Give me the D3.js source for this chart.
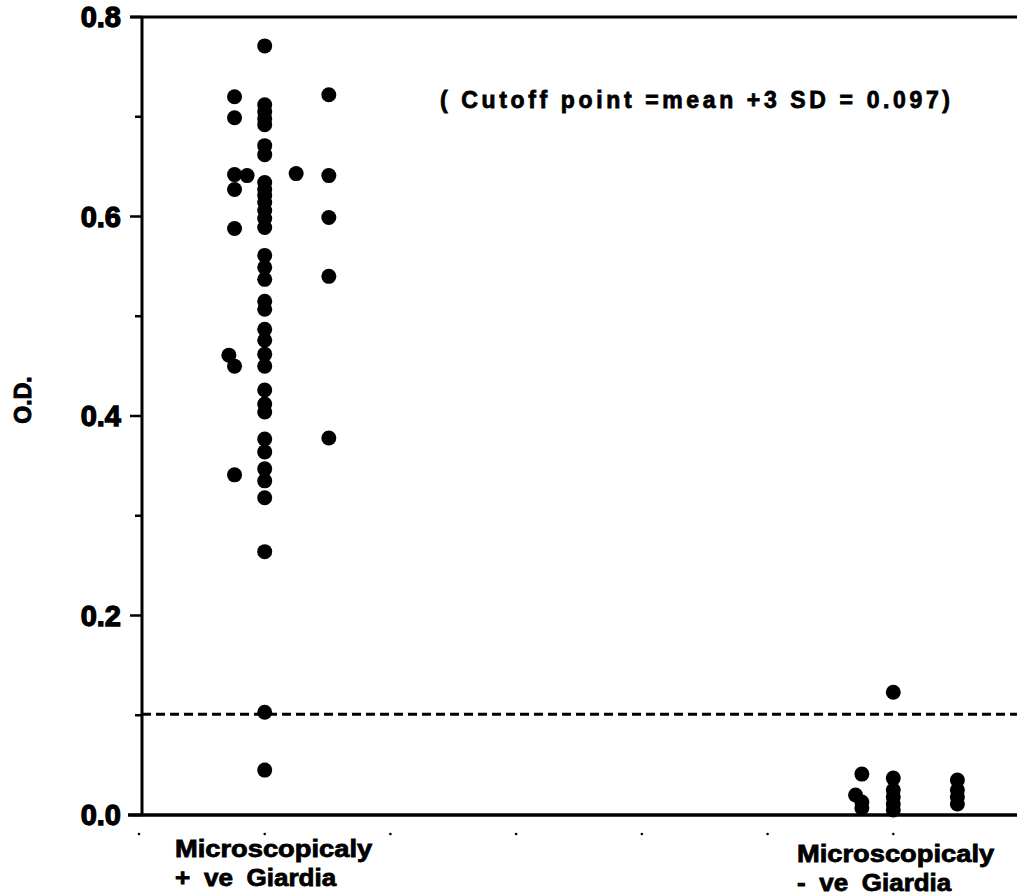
<!DOCTYPE html>
<html>
<head>
<meta charset="utf-8">
<script src="https://cdn.jsdelivr.net/npm/d3@7"></script>
<style>
  body { margin: 0; background: #fff; }
  text { font-family: "Liberation Sans", Arial, sans-serif; font-weight: bold; fill: #000; }
</style>
</head>
<body>
<div id="chart"></div>
<script>
// Dimensions of chart.
const WIDTH = 1017;
const HEIGHT = 896;
const M = { left: 142, top: 17, bottom: 815 };
const R = 7.5;

// Categories sit at x = 1 and x = 6 on a 0..7 axis.
const CATEGORIES = [
  { x: 1, lines: ["Microscopicaly", "+ ve Giardia"] },
  { x: 6, lines: ["Microscopicaly", "- ve Giardia"] },
];
const X_TICKS = [0, 1, 2, 3, 4, 5, 6, 7];
const Y_MAJOR = [0, 0.2, 0.4, 0.6, 0.8];
const Y_MINOR = [0.1, 0.3, 0.5, 0.7];
const CUTOFF_LINE = 0.1;
const NOTE = "( Cutoff point =mean +3 SD = 0.097)";

// Microscopically positive: horizontal offset from category, and O.D.
const posOffset = [
  -0.24, -0.24, -0.24, -0.24, -0.24, -0.24, -0.24, -0.285, -0.14,
  0, 0, 0, 0, 0, 0, 0, 0, 0, 0, 0, 0, 0, 0, 0, 0, 0,
  0, 0, 0, 0, 0, 0, 0, 0, 0, 0, 0, 0, 0, 0, 0, 0, 0,
  0.25, 0.51, 0.51, 0.51, 0.51, 0.51,
];
const posOD = [
  0.720, 0.699, 0.642, 0.627, 0.588, 0.450, 0.341, 0.461, 0.641,
  0.771, 0.712, 0.705, 0.698, 0.692, 0.671, 0.662, 0.634, 0.627, 0.621, 0.614, 0.606, 0.598, 0.589, 0.561, 0.549, 0.537,
  0.515, 0.507, 0.487, 0.476, 0.462, 0.450, 0.426, 0.412, 0.404, 0.377, 0.364, 0.347, 0.335, 0.318, 0.264, 0.103, 0.045,
  0.643, 0.722, 0.641, 0.599, 0.540, 0.378,
];

// Microscopically negative.
const negOffset = [-0.30, -0.25, -0.25, -0.25, 0, 0, 0, 0, 0, 0, 0.51, 0.51, 0.51, 0.51];
const negOD = [0.020, 0.041, 0.013, 0.007, 0.123, 0.037, 0.025, 0.018, 0.011, 0.005, 0.035, 0.025, 0.018, 0.011];

let svg = d3
  .select("#chart")
  .append("svg")
  .attr("width", WIDTH)
  .attr("height", HEIGHT);

let x = d3.scaleLinear().domain([0, 7]).range([139, 1019]);
let y = d3.scaleLinear().domain([0, 0.8]).range([M.bottom, M.top]);

// Frame: left axis, top line and baseline.
svg.append("line")
  .attr("x1", M.left).attr("x2", M.left)
  .attr("y1", M.top - 1).attr("y2", M.bottom + 1)
  .attr("stroke", "#000").attr("stroke-width", 3);
svg.append("line")
  .attr("x1", M.left - 12).attr("x2", WIDTH)
  .attr("y1", M.top).attr("y2", M.top)
  .attr("stroke", "#000").attr("stroke-width", 3);
svg.append("line")
  .attr("x1", M.left - 14).attr("x2", WIDTH)
  .attr("y1", M.bottom).attr("y2", M.bottom)
  .attr("stroke", "#000").attr("stroke-width", 3.5);

// Y ticks and labels.
svg.selectAll(".major")
  .data(Y_MAJOR)
  .enter()
  .append("line")
  .attr("x1", M.left - 12).attr("x2", M.left)
  .attr("y1", (d) => y(d)).attr("y2", (d) => y(d))
  .attr("stroke", "#000").attr("stroke-width", 2.5);
svg.selectAll(".minor")
  .data(Y_MINOR)
  .enter()
  .append("line")
  .attr("x1", M.left - 7).attr("x2", M.left)
  .attr("y1", (d) => y(d)).attr("y2", (d) => y(d))
  .attr("stroke", "#000").attr("stroke-width", 2.5);
svg.selectAll(".ylab")
  .data(Y_MAJOR)
  .enter()
  .append("text")
  .attr("x", 121)
  .attr("y", (d) => y(d))
  .attr("dy", "0.36em")
  .attr("text-anchor", "end")
  .style("font-size", "29px")
  .style("stroke", "#000").style("stroke-width", 1.3)
  .text((d) => d.toFixed(1));

svg.append("text")
  .attr("transform", "translate(31,400) rotate(-90)")
  .attr("text-anchor", "middle")
  .style("font-size", "23px")
  .style("stroke", "#000").style("stroke-width", 1)
  .text("O.D.");

// Small dots under the baseline, one per x unit.
svg.selectAll(".xdot")
  .data(X_TICKS)
  .enter()
  .append("circle")
  .attr("cx", (d) => x(d))
  .attr("cy", 834)
  .attr("r", 1.3)
  .attr("fill", "#000");

// Cutoff line.
svg.append("line")
  .attr("x1", M.left).attr("x2", WIDTH)
  .attr("y1", y(CUTOFF_LINE) - 1).attr("y2", y(CUTOFF_LINE) - 1)
  .attr("stroke", "#000").attr("stroke-width", 3)
  .attr("stroke-dasharray", "9,5");

svg.append("text")
  .attr("x", 440)
  .attr("y", 108)
  .attr("textLength", 510)
  .attr("lengthAdjust", "spacing")
  .style("font-size", "23px")
  .style("stroke", "#000").style("stroke-width", 0.8)
  .text(NOTE);

// Points.
const points = posOD.map((v, i) => ({ x: CATEGORIES[0].x + posOffset[i], v: v }))
  .concat(negOD.map((v, i) => ({ x: CATEGORIES[1].x + negOffset[i], v: v })));

svg.selectAll(".pt")
  .data(points)
  .enter()
  .append("circle")
  .attr("cx", (d) => x(d.x))
  .attr("cy", (d) => y(d.v))
  .attr("r", R)
  .attr("fill", "#000");

// Category labels under the axis; stretched horizontally to the printed widths.
const LABEL = [
  { x0: 175, y0: 857, w: [198, 162] },
  { x0: 797, y0: 862, w: [198, 155] },
];
CATEGORIES.forEach((c, i) => {
  c.lines.forEach((line, j) => {
    let t = svg.append("text")
      .attr("x", 0)
      .attr("y", 0)
      .style("font-size", "24px")
      .style("word-spacing", "6px")
      .style("stroke", "#000").style("stroke-width", 0.8)
      .text(line);
    let natural = t.node().getBBox().width;
    let k = LABEL[i].w[j] / natural;
    t.attr("transform",
      "translate(" + LABEL[i].x0 + "," + (LABEL[i].y0 + j * 29) + ") scale(" + k + ",1)");
  });
});
</script>
</body>
</html>
